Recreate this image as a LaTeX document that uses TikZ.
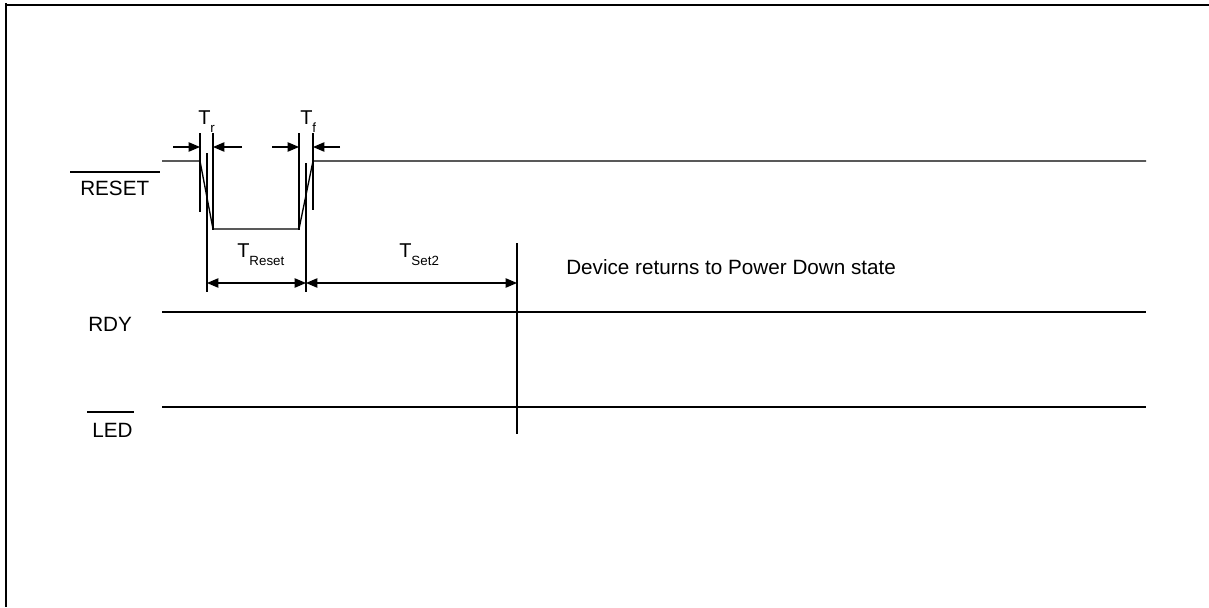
\documentclass[tikz,border=0pt]{standalone}
\usepackage{fontspec}
\setmainfont{Liberation Sans}
\usetikzlibrary{arrows.meta}
\newcommand{\lblsub}[2]{#1\raisebox{-6pt}{\fontsize{10}{10}\selectfont #2}}
\begin{document}
\begin{tikzpicture}[x=0.75pt,y=-0.75pt,
  sig/.style={line width=1pt},
  markline/.style={line width=1.2pt},
  frame/.style={line width=2pt},
  arr/.style={line width=0.9pt,-{Triangle[length=8.5pt,width=7pt]}},
  dim/.style={line width=0.9pt,{Triangle[length=8.5pt,width=7pt]}-{Triangle[length=8.5pt,width=7pt]}},
  lbl/.style={inner sep=0pt,anchor=base west,font=\fontsize{15.5}{18}\selectfont},
  tlbl/.style={inner sep=0pt,anchor=base west,font=\fontsize{15}{18}\selectfont}]
\useasboundingbox (0,0) rectangle (1209,607);
% frame
\draw[frame] (6,3) -- (6,607);
\draw[frame] (5,5) -- (1209,5);
% signal labels
\node[lbl] (reset) at (80,195) {RESET};
\draw[sig] (70,172) -- (160,172);
\node[lbl] (rdy) at (88,331) {RDY};
\node[lbl] (led) at (92,437) {LED};
\draw[sig] (87,412) -- (134,412);
% RESET waveform
\coordinate (r0) at (162,161);
\coordinate (r1) at (200,161);
\coordinate (r2) at (213,229);
\coordinate (r3) at (299,229);
\coordinate (r4) at (313,161);
\coordinate (r5) at (1146,161);
\draw[sig] (r0) -- (r1) -- (r2) -- (r3) -- (r4) -- (r5);
% RDY and LED lines
\coordinate (y0) at (162,312);
\coordinate (y1) at (1146,312);
\draw[sig] (y0) -- (y1);
\coordinate (l0) at (162,407);
\coordinate (l1) at (1146,407);
\draw[sig] (l0) -- (l1);
% marker lines
\coordinate (m1t) at (200,133); \coordinate (m1b) at (200,212);
\coordinate (m2t) at (213,133); \coordinate (m2b) at (213,230);
\coordinate (m3t) at (299,133); \coordinate (m3b) at (299,230);
\coordinate (m4t) at (313,133); \coordinate (m4b) at (313,210);
\coordinate (e1t) at (207,153); \coordinate (e1b) at (207,292);
\coordinate (e2t) at (306,163); \coordinate (e2b) at (306,292);
\coordinate (e3t) at (517,243); \coordinate (e3b) at (517,434);
\draw[markline] (m1t) -- (m1b);
\draw[markline] (m2t) -- (m2b);
\draw[markline] (m3t) -- (m3b);
\draw[markline] (m4t) -- (m4b);
\draw[markline] (e1t) -- (e1b);
\draw[markline] (e2t) -- (e2b);
\draw[sig] (e3t) -- (e3b);
% Tr / Tf arrows
\coordinate (a1) at (173,147); \coordinate (a1e) at (200,147);
\coordinate (a2) at (242,147); \coordinate (a2e) at (213,147);
\coordinate (a3) at (272,147); \coordinate (a3e) at (299,147);
\coordinate (a4) at (340,147); \coordinate (a4e) at (313,147);
\draw[arr] (a1) -- (a1e);
\draw[arr] (a2) -- (a2e);
\draw[arr] (a3) -- (a3e);
\draw[arr] (a4) -- (a4e);
\node[tlbl] (tr) at (198,124) {\lblsub{T}{r}};
\node[tlbl] (tf) at (300,124) {\lblsub{T}{f}};
% dimension arrows
\coordinate (d1) at (207,283); \coordinate (d2) at (306,283); \coordinate (d3) at (517,283);
\draw[dim] (d1) -- (d2);
\draw[dim] (d2) -- (d3);
\node[tlbl] (treset) at (237,257) {\lblsub{T}{Reset}};
\node[tlbl] (tset) at (399,257) {\lblsub{T}{Set2}};
% note
\node[lbl] (note) at (566,274) {Device returns to Power Down state};
\end{tikzpicture}
\end{document}
